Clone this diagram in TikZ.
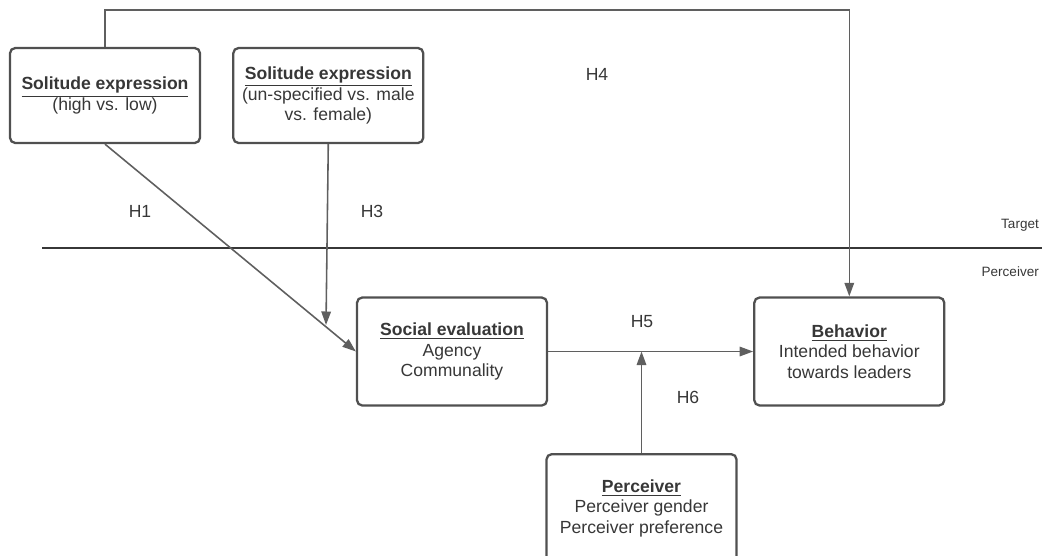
\documentclass[tikz,border=0pt]{standalone}
\usepackage{fontspec}
\setmainfont{Liberation Sans}
\usetikzlibrary{positioning,arrows.meta}

\definecolor{boxGrigio}{RGB}{80,80,80}
\definecolor{lineaGrigio}{RGB}{95,95,95}
\definecolor{testoGrigio}{RGB}{55,55,55}

\begin{document}
\begin{tikzpicture}[
  box/.style={draw=boxGrigio, line width=1.3pt, rounded corners=3pt, minimum width=3.8cm,
    align=center, text=testoGrigio, font=\fontsize{10}{11.6}\selectfont},
  freccia/.style={draw=lineaGrigio, line width=0.9pt, -{Triangle[length=0.27cm, width=0.19cm]}},
  etich/.style={text=testoGrigio, font=\fontsize{10}{11.6}\selectfont},
  lato/.style={text=testoGrigio, font=\fontsize{7.7}{9}\selectfont, anchor=east}
  ]
  \useasboundingbox (0,0) rectangle (21.14,-11.1);
  \clip (0,0) rectangle (21.14,-11.1);

  % Blocchi
  \node[box, minimum height=1.9cm] (sol1) at (2.1,-1.91)
    {\underline{\textbf{Solitude expression}}\\(high vs. low)};
  \node[box, minimum height=1.9cm, right=0.62cm of sol1] (sol2)
    {\underline{\textbf{Solitude expression}}\\(un-specified vs. male\\vs. female)};
  \node[box, minimum height=2.16cm] (soc) at (9.04,-7.03)
    {\underline{\textbf{Social evaluation}}\\Agency\\Communality};
  \node[box, minimum height=2.16cm, right=4.1cm of soc] (beh)
    {\underline{\textbf{Behavior}}\\Intended behavior\\towards leaders};
  \node[box, minimum height=2.16cm, anchor=north] (per) at (12.83,-9.06)
    {\underline{\textbf{Perceiver}}\\Perceiver gender\\Perceiver preference};

  % Linea Target / Perceiver
  \coordinate (lineaA) at (0.84,-4.96);
  \coordinate (lineaB) at (20.84,-4.96);
  \draw[draw=testoGrigio, line width=1.2pt] (lineaA) -- (lineaB);
  \node[lato] (target) at (20.9,-4.5) {Target};
  \node[lato] (perc) at (20.9,-5.44) {Perceiver};

  % Frecce
  \draw[freccia] (sol1.north) -- ++(0,0.74) -| (beh.north);
  \draw[freccia] (sol1.south) -- (soc.west);
  \coordinate (h3fine) at (6.52,-6.5);
  \draw[freccia] (sol2.south) -- (h3fine);
  \draw[freccia] (soc.east) -- (beh.west);
  \draw[freccia] (per.north) -- (per.north |- soc.east);

  % Ipotesi
  \node[etich] (h1) at (2.8,-4.22) {H1};
  \node[etich] (h3) at (7.44,-4.22) {H3};
  \node[etich] (h4) at (11.94,-1.48) {H4};
  \node[etich] (h5) at (12.84,-6.44) {H5};
  \node[etich] (h6) at (13.76,-7.94) {H6};
\end{tikzpicture}
\end{document}
